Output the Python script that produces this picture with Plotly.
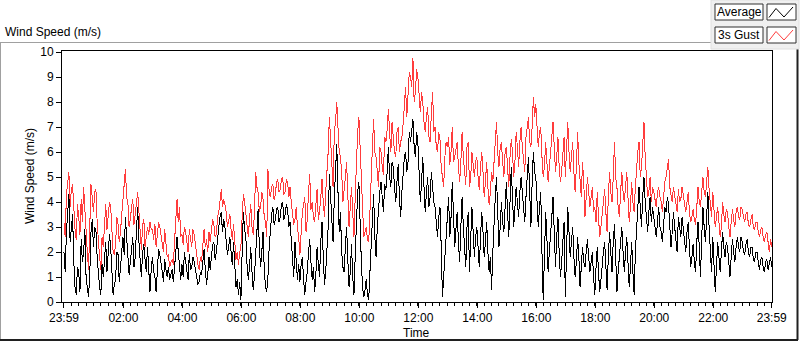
import plotly.graph_objects as go

# ---- data (2.5-minute samples from 23:59 to 23:59 next day), one row per hour ----
average = [
    2.0, 1.2, 2.8, 3.6, 4.3, 2.4, 3.0, 3.5, 1.6, 0.6, 0.3, 1.4, 1.2, 0.4, 2.5, 1.6, 2.0, 2.9, 1.0, 0.5, 0.2, 1.1, 2.8, 3.3,
    2.2, 3.0, 2.9, 1.8, 1.1, 0.6, 0.3, 1.5, 1.0, 1.9, 2.4, 1.2, 1.8, 2.7, 2.2, 1.0, 0.3, 0.7, 0.9, 2.0, 1.9, 0.8, 1.3, 2.1,
    2.6, 1.9, 3.4, 2.6, 2.0, 1.1, 1.6, 2.3, 2.6, 1.4, 1.8, 2.9, 3.8, 2.4, 1.5, 1.0, 2.0, 2.3, 1.7, 1.2, 2.2, 1.5, 0.4, 1.3,
    1.8, 1.2, 1.0, 0.4, 1.6, 2.1, 1.9, 1.4, 1.2, 0.8, 1.7, 1.3, 1.0, 1.4, 0.9, 1.1, 1.3, 0.8, 1.6, 2.0, 2.6, 1.9, 1.3, 0.9,
    1.5, 1.0, 2.0, 1.6, 1.2, 0.9, 1.9, 1.3, 1.4, 1.8, 1.6, 1.2, 1.0, 0.7, 0.8, 1.2, 1.1, 1.6, 2.1, 1.3, 0.7, 1.1, 1.8, 1.3,
    1.8, 2.3, 2.4, 1.7, 2.0, 2.6, 3.0, 3.4, 3.6, 2.8, 3.3, 3.0, 2.4, 1.9, 2.2, 2.6, 2.0, 1.5, 2.4, 1.6, 0.6, 0.9, 0.3, 0.8,
    0.1, 2.0, 3.6, 2.9, 2.6, 1.5, 0.9, 1.4, 2.2, 1.2, 0.5, 1.0, 1.8, 2.8, 3.7, 2.2, 1.4, 2.0, 2.8, 1.3, 0.6, 0.4, 1.0, 2.2,
    3.0, 3.5, 3.8, 3.1, 3.3, 3.7, 3.8, 3.2, 3.4, 3.9, 4.0, 3.3, 3.5, 3.9, 3.7, 3.0, 3.2, 2.4, 1.5, 1.0, 2.4, 1.6, 0.9, 1.5,
    0.8, 1.5, 1.8, 0.9, 0.3, 0.8, 1.2, 2.0, 2.5, 1.6, 0.9, 1.4, 0.4, 1.1, 2.2, 1.5, 1.0, 2.4, 3.2, 1.8, 0.7, 1.2, 1.9, 3.0,
    5.1, 4.2, 3.2, 2.4, 4.2, 5.4, 6.3, 4.4, 2.8, 3.6, 2.0, 1.4, 1.2, 2.2, 3.0, 1.7, 0.6, 1.2, 2.3, 1.0, 0.3, 1.8, 3.6, 4.4,
    4.8, 3.0, 1.6, 0.6, 0.2, 0.5, 0.9, 0.3, 0.1, 1.2, 2.4, 3.4, 4.3, 2.6, 1.8, 3.0, 3.8, 4.4, 4.8, 4.0, 3.6, 4.7, 4.5, 5.2,
    6.2, 5.0, 4.6, 5.6, 5.4, 4.6, 4.0, 4.8, 5.5, 4.2, 3.4, 4.4, 5.2, 5.8, 6.0, 5.2, 5.6, 6.8, 6.4, 7.0, 7.3, 6.2, 5.8, 6.8,
    6.4, 5.2, 4.0, 4.8, 5.8, 4.6, 3.6, 4.4, 5.0, 3.8, 4.2, 5.2, 4.6, 4.0, 3.8, 3.0, 2.6, 3.4, 3.8, 2.2, 0.2, 1.0, 1.8, 3.0,
    3.4, 4.2, 2.6, 3.4, 4.8, 3.2, 2.2, 2.9, 3.6, 2.4, 1.6, 3.0, 4.2, 3.0, 2.0, 1.4, 3.0, 3.6, 1.2, 2.2, 3.8, 2.8, 1.8, 2.6,
    3.0, 2.2, 1.4, 2.6, 3.6, 2.8, 1.8, 2.4, 3.2, 2.0, 1.2, 1.8, 0.5, 2.0, 3.4, 4.2, 5.0, 3.6, 2.2, 3.0, 4.0, 3.2, 2.8, 3.8,
    4.8, 3.6, 2.6, 4.0, 5.4, 4.2, 3.0, 3.8, 4.6, 4.0, 3.4, 4.4, 5.0, 4.4, 3.8, 3.2, 4.2, 5.0, 5.8, 4.4, 3.0, 4.8, 6.0, 5.2,
    5.0, 4.0, 3.0, 3.8, 4.4, 2.0, 0.1, 1.8, 3.6, 2.6, 1.2, 2.0, 2.6, 3.4, 4.2, 2.8, 1.4, 2.6, 3.4, 2.0, 1.0, 1.6, 2.4, 3.2,
    0.2, 2.4, 3.8, 2.8, 1.8, 2.4, 3.0, 1.8, 1.0, 1.6, 2.6, 1.8, 0.6, 1.4, 2.2, 1.6, 1.4, 2.0, 2.5, 1.8, 1.2, 1.6, 2.0, 1.0,
    0.3, 1.4, 2.2, 1.2, 0.4, 0.9, 1.6, 2.0, 2.4, 1.4, 0.5, 1.8, 2.8, 2.0, 1.2, 2.4, 3.1, 1.8, 0.4, 1.2, 1.8, 2.4, 3.0, 2.0,
    1.2, 2.0, 2.6, 1.6, 0.6, 1.4, 2.4, 1.2, 0.3, 2.0, 3.2, 3.8, 4.6, 3.6, 3.0, 4.2, 5.0, 4.0, 3.4, 2.8, 3.6, 4.2, 3.2, 3.8,
    3.4, 3.0, 2.6, 3.2, 3.8, 3.0, 2.8, 2.4, 3.2, 3.8, 3.6, 4.2, 3.9, 3.0, 2.2, 2.8, 3.6, 3.0, 2.4, 2.0, 3.4, 3.0, 2.6, 3.4,
    3.0, 2.6, 2.0, 2.8, 3.2, 2.2, 1.4, 1.8, 2.3, 1.6, 1.2, 2.4, 3.2, 2.2, 1.0, 2.6, 3.8, 3.0, 2.4, 3.4, 4.4, 3.0, 1.8, 1.2,
    2.6, 1.6, 0.4, 1.4, 2.4, 1.8, 1.2, 2.0, 2.8, 2.2, 1.8, 2.4, 2.2, 1.6, 1.0, 1.8, 2.5, 2.0, 1.6, 2.2, 2.6, 2.2, 2.0, 2.6,
    2.4, 2.0, 1.9, 2.3, 2.5, 2.0, 1.8, 2.2, 2.2, 1.7, 1.6, 2.0, 2.0, 1.6, 1.3, 1.7, 1.8, 1.4, 1.2, 1.6, 1.7, 1.3, 1.5, 1.8,
    1.4,
]
gust = [
    3.2, 2.6, 4.3, 4.8, 5.2, 3.8, 4.5, 4.7, 3.6, 2.9, 2.5, 3.9, 3.4, 2.7, 4.1, 3.2, 4.6, 3.6, 2.8, 2.0, 1.3, 2.9, 4.7, 4.2,
    3.6, 4.4, 4.5, 3.2, 2.4, 1.8, 1.3, 2.6, 2.2, 3.3, 3.9, 2.9, 3.4, 4.0, 3.8, 2.6, 2.0, 1.9, 2.3, 3.4, 3.1, 2.4, 2.8, 3.5,
    4.0, 4.6, 5.3, 4.2, 4.0, 3.0, 3.3, 3.8, 4.1, 3.1, 3.5, 4.0, 4.4, 3.6, 2.6, 2.1, 3.1, 3.3, 2.2, 2.6, 3.0, 2.7, 3.2, 2.9,
    2.9, 2.5, 3.1, 2.2, 2.6, 3.2, 3.0, 2.6, 2.4, 2.0, 2.9, 2.3, 1.8, 1.9, 1.4, 1.6, 1.7, 1.5, 2.6, 3.3, 4.1, 3.2, 3.8, 2.6,
    2.7, 2.3, 3.0, 2.8, 2.4, 2.0, 2.9, 2.5, 2.2, 2.9, 2.7, 2.3, 1.8, 1.5, 1.3, 1.8, 1.6, 2.4, 2.9, 2.2, 2.5, 2.0, 2.8, 2.4,
    2.9, 3.3, 3.1, 2.6, 2.7, 3.4, 3.6, 4.2, 4.5, 3.8, 4.1, 3.9, 3.6, 3.0, 3.2, 3.5, 2.9, 2.5, 3.1, 2.4, 1.7, 2.0, 1.5, 2.0,
    2.2, 3.4, 4.3, 4.0, 3.5, 2.9, 2.6, 3.3, 3.9, 3.0, 2.7, 3.6, 5.2, 4.6, 4.4, 3.6, 3.8, 4.4, 4.1, 3.4, 3.2, 2.6, 5.3, 4.4,
    4.2, 4.6, 4.7, 4.1, 4.3, 4.8, 4.9, 4.4, 4.5, 4.9, 5.0, 4.3, 4.4, 4.9, 4.8, 4.2, 4.6, 4.0, 3.6, 3.1, 3.3, 3.8, 3.0, 2.6,
    1.9, 3.0, 3.6, 3.9, 4.2, 2.8, 3.3, 4.4, 5.1, 3.7, 4.0, 3.4, 3.2, 3.9, 4.5, 3.3, 3.6, 4.2, 4.9, 4.0, 3.4, 4.4, 5.2, 6.0,
    7.4, 6.4, 5.6, 4.6, 6.8, 7.2, 8.0, 6.6, 6.0, 5.8, 5.2, 4.0, 4.4, 5.0, 5.6, 4.2, 3.0, 3.8, 4.6, 3.6, 2.6, 4.2, 5.8, 6.8,
    7.4, 6.0, 5.0, 3.4, 2.6, 2.8, 3.0, 2.5, 2.4, 3.6, 4.6, 6.2, 7.3, 6.0, 5.8, 5.0, 4.6, 6.2, 6.0, 5.4, 5.1, 6.6, 6.4, 6.9,
    7.7, 6.8, 6.0, 7.2, 6.6, 6.0, 5.8, 6.8, 7.0, 6.0, 6.4, 6.6, 7.1, 7.8, 8.6, 7.4, 8.2, 9.2, 9.0, 8.6, 9.75, 8.0, 8.4, 9.3,
    9.0, 8.2, 7.6, 8.4, 8.0, 7.2, 6.8, 7.4, 7.8, 6.6, 6.4, 7.6, 8.4, 6.8, 7.0, 6.2, 6.0, 6.8, 6.5, 5.4, 5.0, 4.6, 5.8, 6.4,
    6.2, 6.6, 5.5, 6.0, 7.0, 5.6, 5.8, 6.2, 6.4, 5.4, 4.8, 5.6, 6.8, 5.8, 5.2, 4.7, 6.2, 6.4, 4.6, 5.0, 6.0, 5.4, 5.0, 5.6,
    5.8, 5.0, 4.5, 5.4, 6.0, 5.2, 4.2, 4.8, 5.6, 4.6, 3.9, 4.4, 5.2, 4.8, 5.8, 6.4, 7.2, 6.0, 5.4, 6.2, 6.4, 5.6, 5.0, 6.0,
    6.2, 5.4, 4.6, 5.8, 6.5, 6.0, 5.0, 5.6, 6.8, 6.2, 5.4, 6.4, 7.0, 6.2, 5.8, 5.2, 6.6, 7.0, 7.4, 6.4, 6.2, 7.0, 8.2, 7.4,
    7.9, 7.0, 6.2, 6.8, 7.0, 5.8, 5.0, 5.4, 6.4, 5.6, 4.8, 5.4, 6.0, 6.6, 7.2, 6.2, 5.2, 5.8, 6.6, 5.4, 4.8, 5.2, 6.0, 6.6,
    5.0, 6.2, 7.2, 6.0, 5.2, 5.8, 6.4, 5.2, 4.4, 5.4, 6.8, 5.6, 4.6, 4.2, 5.6, 4.8, 3.4, 4.2, 5.0, 4.4, 3.8, 4.2, 4.6, 3.6,
    3.8, 3.2, 4.4, 3.4, 2.6, 3.0, 3.6, 4.0, 4.5, 3.6, 2.8, 4.2, 5.2, 4.4, 4.0, 5.0, 6.4, 5.0, 4.6, 3.8, 3.4, 4.4, 5.2, 4.4,
    4.0, 4.6, 5.2, 4.2, 3.2, 3.8, 4.8, 4.0, 3.6, 4.6, 5.6, 6.0, 6.4, 5.0, 5.4, 6.2, 7.2, 5.8, 5.0, 4.2, 4.4, 5.0, 4.0, 4.6,
    4.4, 4.0, 3.8, 4.4, 4.6, 4.2, 4.0, 3.6, 4.4, 4.8, 5.0, 5.4, 5.7, 4.6, 4.2, 4.0, 4.6, 4.2, 3.9, 3.6, 4.5, 4.0, 4.1, 4.6,
    4.3, 3.8, 3.6, 4.0, 4.4, 3.6, 3.2, 3.4, 3.7, 3.3, 3.1, 3.8, 4.6, 4.0, 3.8, 4.4, 5.0, 4.4, 4.2, 4.8, 5.4, 4.5, 3.9, 3.4,
    4.4, 3.6, 3.0, 3.4, 3.8, 3.2, 2.6, 3.0, 4.0, 3.5, 3.2, 3.7, 3.6, 3.0, 2.6, 3.2, 3.7, 3.3, 3.0, 3.6, 3.8, 3.4, 3.3, 3.8,
    3.7, 3.4, 3.2, 3.5, 3.6, 3.1, 3.0, 3.3, 3.5, 3.0, 2.9, 3.2, 3.2, 2.8, 2.6, 2.9, 3.0, 2.6, 2.4, 2.7, 2.8, 2.4, 2.0, 2.5,
    2.2,
]
minutes = [2.5 * i for i in range(len(average))]  # minutes after 23:59
tick_minutes = [0, 121, 241, 361, 481, 601, 721, 841, 961, 1081, 1201, 1321, 1440]
tick_labels = ["23:59", "02:00", "04:00", "06:00", "08:00", "10:00", "12:00",
               "14:00", "16:00", "18:00", "20:00", "22:00", "23:59"]
y_ticks = list(range(0, 11))

# ---- layout geometry (pixels) ----
W, H = 800, 342
L, R, T, B = 62, 772, 51, 302
FONT = "Liberation Sans, Arial, sans-serif"


def px(x):
    return (x - L) / (R - L)


def py(y):
    return (B - y) / (B - T)


fig = go.Figure()
fig.add_trace(go.Scatter(x=minutes, y=gust, mode="lines", name="3s Gust",
                         line=dict(color="#ff3c3c", width=1), showlegend=False))
fig.add_trace(go.Scatter(x=minutes, y=average, mode="lines", name="Average",
                         line=dict(color="#000000", width=1), showlegend=False))

shapes = []
# outer frame
shapes.append(dict(type="line", xref="paper", yref="paper", x0=px(0), x1=px(711), y0=py(42.5), y1=py(42.5),
                   line=dict(color="#a0a0a0", width=1)))
shapes.append(dict(type="line", xref="paper", yref="paper", x0=px(0.5), x1=px(0.5), y0=py(42.5), y1=py(340),
                   line=dict(color="#a0a0a0", width=1)))
shapes.append(dict(type="line", xref="paper", yref="paper", x0=px(0), x1=px(798), y0=py(340), y1=py(340),
                   line=dict(color="#202020", width=2)))
shapes.append(dict(type="line", xref="paper", yref="paper", x0=px(797.5), x1=px(797.5), y0=py(49), y1=py(340),
                   line=dict(color="#202020", width=2)))
# legend panel
shapes.append(dict(type="rect", xref="paper", yref="paper", x0=px(711), x1=px(799), y0=py(0), y1=py(49),
                   fillcolor="#f0f0f0", line=dict(color="#e0e0e0", width=1), layer="above"))
for (y0, y1, col) in [(4, 20, "#000000"), (27, 43, "#ff3c3c")]:
    shapes.append(dict(type="rect", xref="paper", yref="paper", x0=px(715), x1=px(763), y0=py(y0), y1=py(y1),
                       fillcolor="#ffffff", line=dict(color="#303030", width=1), layer="above"))
    shapes.append(dict(type="rect", xref="paper", yref="paper", x0=px(767), x1=px(796), y0=py(y0), y1=py(y1),
                       fillcolor="#ffffff", line=dict(color="#303030", width=1), layer="above"))
    pts = [(769, y0 + 13.5), (776, y0 + 4.5), (784, y0 + 13), (793, y0 + 3)]
    path = "M " + " L ".join(f"{px(a)},{py(b)}" for a, b in pts)
    shapes.append(dict(type="path", xref="paper", yref="paper", path=path,
                       line=dict(color=col, width=1), layer="above"))

annotations = [
    dict(text="Wind Speed (m/s)", xref="paper", yref="paper", x=px(3), y=py(32), xanchor="left",
         yanchor="middle", showarrow=False, font=dict(family=FONT, size=12, color="#000")),
    dict(text="Wind Speed (m/s)", xref="paper", yref="paper", x=px(30), y=py(176), xanchor="center",
         yanchor="middle", showarrow=False, textangle=-90, font=dict(family=FONT, size=12, color="#000")),
    dict(text="Time", xref="paper", yref="paper", x=px(416), y=py(333), xanchor="center",
         yanchor="middle", showarrow=False, font=dict(family=FONT, size=12, color="#000")),
    dict(text="Average", xref="paper", yref="paper", x=px(739), y=py(12), xanchor="center",
         yanchor="middle", showarrow=False, font=dict(family=FONT, size=12, color="#000")),
    dict(text="3s Gust", xref="paper", yref="paper", x=px(739), y=py(35), xanchor="center",
         yanchor="middle", showarrow=False, font=dict(family=FONT, size=12, color="#000")),
]

fig.update_layout(
    width=W, height=H,
    margin=dict(l=L, r=W - R, t=T, b=H - B, pad=0),
    paper_bgcolor="#ffffff", plot_bgcolor="#ffffff",
    font=dict(family=FONT, size=12, color="#000"),
    shapes=shapes, annotations=annotations,
    showlegend=False,
    xaxis=dict(range=[-4, 1440.5], tickmode="array", tickvals=tick_minutes, ticktext=tick_labels,
               ticks="outside", ticklen=5, tickcolor="#000", showgrid=False, zeroline=False,
               showline=True, linecolor="#000", linewidth=1, mirror=True,
               minor=dict(tickmode="linear", tick0=0, dtick=15, ticks="outside", ticklen=3,
                          tickcolor="#000", showgrid=False),
               tickfont=dict(family=FONT, size=12, color="#000")),
    yaxis=dict(range=[0, 10.04], tickmode="array", tickvals=y_ticks, ticks="outside", ticklen=5,
               tickcolor="#000", showgrid=False, zeroline=False, showline=True, linecolor="#000",
               linewidth=1, mirror=True, tickfont=dict(family=FONT, size=12, color="#000")),
)

post = (
    "document.body.style.margin='0';document.body.style.padding='0';"
    "document.querySelectorAll('.scatterlayer path.js-line').forEach(function(p){p.style.shapeRendering='crispEdges';});"
)
fig.write_html("out.html", config={"displayModeBar": False}, post_script=post)
